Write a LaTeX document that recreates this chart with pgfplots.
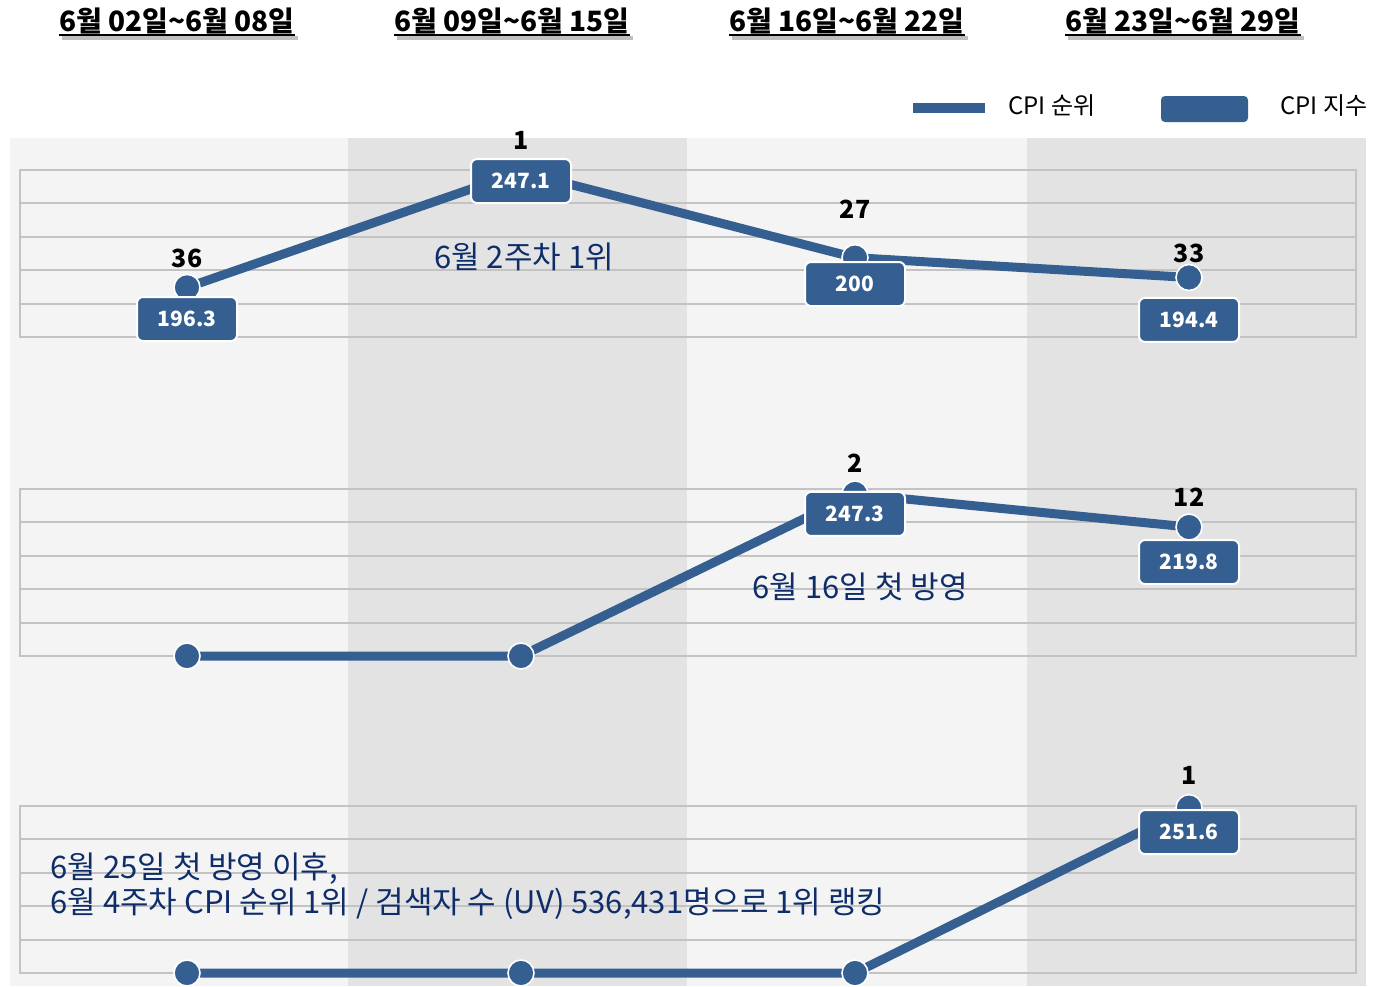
\documentclass[border=0pt]{standalone}
\usepackage{pgfplots}
\pgfplotsset{compat=1.18}
\usepackage{fontspec}
\setmainfont{Noto Sans CJK KR}
\definecolor{cpi}{HTML}{365F91}
\definecolor{bandA}{HTML}{F4F4F4}
\definecolor{bandB}{HTML}{E3E3E3}
\definecolor{gridc}{HTML}{C3C3C3}
\definecolor{navy}{HTML}{0F2D69}
\pgfplotsset{panel/.style={scale only axis, width=668pt, height=83.5pt, anchor=south west,
  xmin=-0.5,xmax=3.5,ymin=0.5,ymax=51,y dir=reverse,
  axis line style={draw=gridc,line width=1pt},
  xtick=\empty, ytick={0.5,10.6,20.7,30.8,40.9,51}, yticklabels={}, ymajorgrids,
  grid style={draw=gridc,line width=1pt}, major tick length=0pt, clip=false}}
\tikzset{
  cpiline/.style={draw=cpi,line width=4.5pt,mark=*,mark size=6.5pt,
    mark options={fill=cpi,draw=white,line width=0.8pt}},
  vbox/.style={fill=cpi,draw=white,line width=1pt,rounded corners=3pt,minimum width=50pt,minimum height=22pt,inner sep=0pt,text=white,font=\bfseries\fontsize{10.5}{12}\selectfont},
  rlab/.style={font=\bfseries\fontsize{12.5}{14}\selectfont,text=black},
  note/.style={font=\fontsize{15.5}{17}\selectfont,text=navy},
  hdr/.style={font=\bfseries\fontsize{14}{16}\selectfont,inner sep=0pt,anchor=base}}
\begin{document}
\begin{tikzpicture}
\begin{scope}[x=0.5pt,y=-0.5pt]
\path[use as bounding box] (0,0) rectangle (1387,986);
\fill[bandA] (10,138) rectangle (348,986);
\fill[bandB] (348,138) rectangle (687,986);
\fill[bandA] (687,138) rectangle (1027,986);
\fill[bandB] (1027,138) rectangle (1366,986);
% headers
\foreach \cx/\t in {177/{6월 02일\textasciitilde 6월 08일},512/{6월 09일\textasciitilde 6월 15일},847/{6월 16일\textasciitilde 6월 22일},1183/{6월 23일\textasciitilde 6월 29일}}{
  \node[hdr,text=black] (h) at (\cx,31) {\t};
  \draw[black!25,line width=2pt] ([xshift=1.5pt,yshift=-3.5pt]h.base west) -- ([xshift=1.5pt,yshift=-3.5pt]h.base east);
  \draw[black,line width=1pt] ([yshift=-2pt]h.base west) -- ([yshift=-2pt]h.base east);
}
% legend
\draw[cpi,line width=5pt] (913,108) -- (985,108);
\node[anchor=west,inner sep=0pt,font=\fontsize{12}{14}\selectfont] at (1008,106) {CPI 순위};
\fill[cpi,rounded corners=2pt] (1161,96) rectangle (1248,122);
\node[anchor=west,inner sep=0pt,font=\fontsize{12}{14}\selectfont] at (1280,106) {CPI 지수};
\end{scope}

% panel 1
\begin{axis}[panel, at={(10pt,-168.5pt)}]
\addplot[cpiline] coordinates {(0,36) (1,1) (2,27) (3,33)};
\coordinate (a0) at (axis cs:0,36);
\coordinate (a1) at (axis cs:1,1);
\coordinate (a2) at (axis cs:2,27);
\coordinate (a3) at (axis cs:3,33);
\coordinate (an) at (axis cs:1.009,26.8);
\end{axis}
\node[rlab,yshift=14.7pt] at (a0) {36};
\node[rlab,yshift=15.8pt] at (a1) {1};
\node[rlab,yshift=24.3pt] at (a2) {27};
\node[rlab,yshift=12.2pt] at (a3) {33};
\node[vbox,yshift=-15.8pt] at (a0) {196.3};
\node[vbox,yshift=-4.7pt] at (a1) {247.1};
\node[vbox,yshift=-13.2pt] at (a2) {200};
\node[vbox,yshift=-21.2pt] at (a3) {194.4};
\node[note] at (an) {6월 2주차 1위};

% panel 2
\begin{axis}[panel, at={(10pt,-328pt)}]
\addplot[cpiline] coordinates {(0,51) (1,51) (2,2) (3,12)};
\coordinate (b2) at (axis cs:2,2);
\coordinate (b3) at (axis cs:3,12);
\coordinate (bn) at (axis cs:2.015,30.1);
\end{axis}
\node[rlab,yshift=15.5pt] at (b2) {2};
\node[rlab,yshift=15pt] at (b3) {12};
\node[vbox,yshift=-10pt] at (b2) {247.3};
\node[vbox,yshift=-17.5pt] at (b3) {219.8};
\node[note] at (bn) {6월 16일 첫 방영};

% panel 3
\begin{axis}[panel, at={(10pt,-486.5pt)}]
\addplot[cpiline] coordinates {(0,51) (1,51) (2,51) (3,1)};
\coordinate (c3) at (axis cs:3,1);
\coordinate (cn1) at (axis cs:-0.41,19.55);
\coordinate (cn2) at (axis cs:-0.41,30.1);
\end{axis}
\node[rlab,yshift=16.3pt] at (c3) {1};
\node[vbox,yshift=-12.2pt] at (c3) {251.6};
\node[note,anchor=west,inner sep=0pt] at (cn1) {6월 25일 첫 방영 이후,};
\node[note,anchor=west,inner sep=0pt] at (cn2) {6월 4주차 CPI 순위 1위 / 검색자 수 (UV) 536,431명으로 1위 랭킹};
\end{tikzpicture}
\end{document}
